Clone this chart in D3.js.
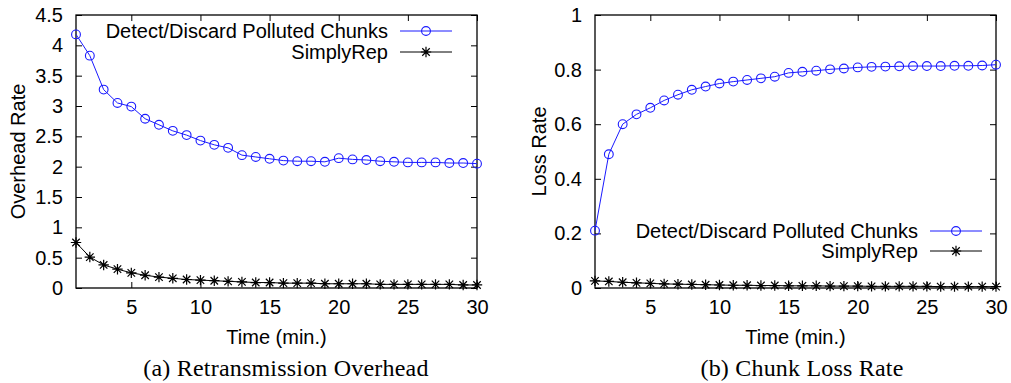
<!DOCTYPE html>
<html>
<head>
<meta charset="utf-8">
<script src="https://cdn.jsdelivr.net/npm/d3@7"></script>
<style>
  html, body { margin: 0; padding: 0; background: #fff; }
  svg { display: block; }
  .tick text { font-family: "Liberation Sans", Arial, sans-serif; font-size: 20px; fill: #000; }
</style>
</head>
<body>
<div id="chart"></div>
<script>
const time = [1, 2, 3, 4, 5, 6, 7, 8, 9, 10, 11, 12, 13, 14, 15, 16, 17, 18, 19, 20, 21, 22, 23, 24, 25, 26, 27, 28, 29, 30];

// (a) retransmission overhead
const overheadDetect = [4.18, 3.83, 3.27, 3.05, 2.99, 2.79, 2.69, 2.59, 2.52, 2.43, 2.36, 2.31, 2.19, 2.16, 2.13, 2.10, 2.09, 2.09, 2.08, 2.14, 2.12, 2.11, 2.09, 2.08, 2.07, 2.07, 2.07, 2.06, 2.06, 2.05];
const overheadRep = [0.75, 0.51, 0.38, 0.31, 0.25, 0.21, 0.18, 0.16, 0.14, 0.13, 0.12, 0.11, 0.10, 0.09, 0.09, 0.08, 0.08, 0.08, 0.07, 0.07, 0.07, 0.07, 0.06, 0.06, 0.06, 0.06, 0.06, 0.06, 0.05, 0.05];

// (b) chunk loss rate
const lossDetect = [0.21, 0.49, 0.60, 0.636, 0.66, 0.687, 0.708, 0.726, 0.738, 0.749, 0.756, 0.762, 0.768, 0.774, 0.788, 0.792, 0.796, 0.801, 0.804, 0.808, 0.810, 0.811, 0.812, 0.813, 0.813, 0.813, 0.814, 0.814, 0.815, 0.818];
const lossRep = [0.026, 0.024, 0.021, 0.019, 0.017, 0.015, 0.014, 0.013, 0.012, 0.011, 0.010, 0.010, 0.009, 0.009, 0.008, 0.008, 0.008, 0.007, 0.007, 0.007, 0.006, 0.006, 0.006, 0.006, 0.006, 0.005, 0.005, 0.005, 0.005, 0.005];

const xTicks = [5, 10, 15, 20, 25, 30];
const overheadTicks = [0, 0.5, 1, 1.5, 2, 2.5, 3, 3.5, 4, 4.5];
const lossTicks = [0, 0.2, 0.4, 0.6, 0.8, 1];

const seriesNames = ["Detect/Discard Polluted Chunks", "SimplyRep"];
const blue = "#1a1aff";
const sans = "Liberation Sans, Arial, sans-serif";

const width = 1011, height = 383;
const svg = d3.select("#chart").append("svg").attr("width", width).attr("height", height);

function starPath(s) {
    const d = s * 0.72;
    return `M${-s},0L${s},0M0,${-s}L0,${s}M${-d},${-d}L${d},${d}M${-d},${d}L${d},${-d}`;
}

function panel(opts) {
    const { left, right, top, bottom } = opts.box;
    const x = d3.scaleLinear().domain([1, 30]).range([left, right]);
    const y = d3.scaleLinear().domain(opts.yDomain).range([bottom, top]);
    const g = svg.append("g");

    // gnuplot-style inward ticks on all four sides
    g.append("g").attr("transform", `translate(0,${bottom})`)
        .call(d3.axisBottom(x).tickValues(xTicks).tickSizeInner(-6).tickSizeOuter(0).tickPadding(12));
    g.append("g").attr("transform", `translate(0,${top})`)
        .call(d3.axisTop(x).tickValues(xTicks).tickSizeInner(-6).tickSizeOuter(0).tickFormat(""));
    g.append("g").attr("transform", `translate(${left},0)`)
        .call(d3.axisLeft(y).tickValues(opts.yTicks).tickSizeInner(-6).tickSizeOuter(0).tickPadding(13).tickFormat(d3.format("")));
    g.append("g").attr("transform", `translate(${right},0)`)
        .call(d3.axisRight(y).tickValues(opts.yTicks).tickSizeInner(-6).tickSizeOuter(0).tickFormat(""));
    g.selectAll(".domain").remove();
    g.selectAll(".tick line").attr("stroke", "#000");

    g.append("rect")
        .attr("x", left).attr("y", top)
        .attr("width", right - left).attr("height", bottom - top)
        .attr("fill", "none").attr("stroke", "#000").attr("stroke-width", 1.3);

    const line = d3.line().x((d, i) => x(time[i])).y(d => y(d));

    // detect/discard: blue line, open circles
    g.append("path").datum(opts.detect)
        .attr("d", line).attr("fill", "none").attr("stroke", blue).attr("stroke-width", 1);
    g.selectAll(".circ").data(opts.detect).join("circle")
        .attr("cx", (d, i) => x(time[i])).attr("cy", d => y(d)).attr("r", 4.4)
        .attr("fill", "none").attr("stroke", blue).attr("stroke-width", 1.1);

    // simplyrep: black line, stars
    g.append("path").datum(opts.rep)
        .attr("d", line).attr("fill", "none").attr("stroke", "#000").attr("stroke-width", 1);
    g.selectAll(".star").data(opts.rep).join("path")
        .attr("transform", (d, i) => `translate(${x(time[i])},${y(d)})`)
        .attr("d", starPath(5.2)).attr("fill", "none").attr("stroke", "#000").attr("stroke-width", 1.2);

    // legend
    const lg = g.append("g").attr("font-family", sans).attr("font-size", 20);
    const colors = [blue, "#000"];
    seriesNames.forEach((name, i) => {
        const ly = opts.legend.y + i * opts.legend.step;
        lg.append("text").attr("x", opts.legend.x).attr("y", ly).attr("dy", "0.35em")
            .attr("text-anchor", "end").text(name);
        lg.append("line").attr("x1", opts.legend.x + 12).attr("x2", opts.legend.x + 64)
            .attr("y1", ly).attr("y2", ly).attr("stroke", colors[i]).attr("stroke-width", 1);
        if (i === 0) {
            lg.append("circle").attr("cx", opts.legend.x + 38).attr("cy", ly).attr("r", 4.4)
                .attr("fill", "none").attr("stroke", blue).attr("stroke-width", 1.1);
        } else {
            lg.append("path").attr("transform", `translate(${opts.legend.x + 38},${ly})`)
                .attr("d", starPath(5.2)).attr("fill", "none").attr("stroke", "#000").attr("stroke-width", 1.2);
        }
    });

    // axis titles
    g.append("text").attr("x", (left + right) / 2).attr("y", 337).attr("dy", "0.35em")
        .attr("text-anchor", "middle").attr("font-family", sans)
        .attr("font-size", 20).text("Time (min.)");
    g.append("text").attr("transform", `translate(${opts.yTitleX},${(top + bottom) / 2}) rotate(-90)`)
        .attr("dy", "0.35em").attr("text-anchor", "middle")
        .attr("font-family", sans).attr("font-size", 20).text(opts.yTitle);

    // caption
    g.append("text").attr("x", opts.captionX).attr("y", 368).attr("dy", "0.35em")
        .attr("text-anchor", "middle").attr("font-family", "Liberation Serif, Times New Roman, serif")
        .attr("font-size", 24).attr("letter-spacing", 0.2).text(opts.caption);
}

panel({
    box: { left: 76, right: 477, top: 15, bottom: 288 },
    yDomain: [0, 4.5], yTicks: overheadTicks,
    detect: overheadDetect, rep: overheadRep,
    legend: { x: 388, y: 31, step: 21 },
    yTitle: "Overhead Rate", yTitleX: 18,
    caption: "(a) Retransmission Overhead", captionX: 286
});

panel({
    box: { left: 595, right: 996, top: 15, bottom: 288 },
    yDomain: [0, 1], yTicks: lossTicks,
    detect: lossDetect, rep: lossRep,
    legend: { x: 918, y: 231, step: 20 },
    yTitle: "Loss Rate", yTitleX: 539,
    caption: "(b) Chunk Loss Rate", captionX: 802
});
</script>
</body>
</html>
